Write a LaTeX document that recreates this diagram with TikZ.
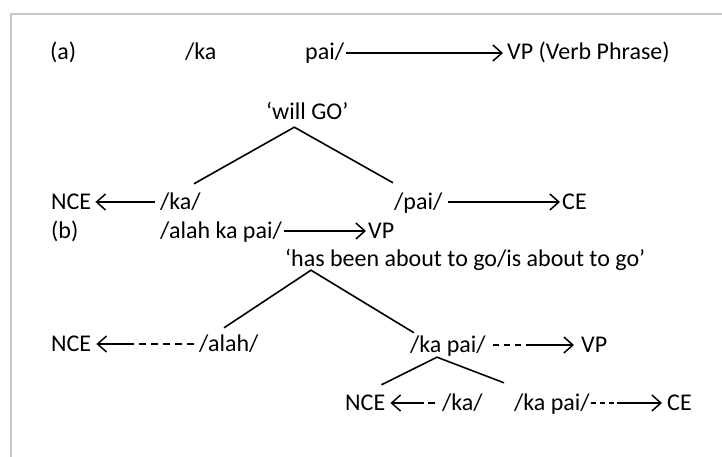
\documentclass[tikz,border=0pt]{standalone}
\usepackage{fontspec}
\setmainfont{Carlito}
\usepackage{tikz}
\usetikzlibrary{arrows.meta, positioning}
\definecolor{framegray}{gray}{0.78}

\begin{document}
\begin{tikzpicture}[x=1pt, y=-1pt,
	txt/.style={anchor=west, inner sep=0pt, text height=14pt, text depth=0pt, font=\fontsize{24}{28}\selectfont},
	arr/.style={-{Straight Barb[length=9pt, width=16pt]}, line width=1.5pt},
	dsh/.style={line width=1.1pt, dash pattern=on 7pt off 5pt},
	leg/.style={line width=1.6pt}]

% picture is measured in pixels of the scan, y grows downwards
\useasboundingbox (0,0) rectangle (722,457);
\draw[framegray, line width=2pt] (11,457) -- (11,14) -- (722,14); % frame

% (a)
\node[txt] (alab)  at (50,53)  {(a)};
\node[txt] (aka)   at (185,53) {/ka};
\node[txt] (apai)  at (305,53) {pai/};
\node[txt] (avp)   at (507,53) {VP (Verb Phrase)};
\draw[arr, shorten <=2pt, shorten >=4pt] (apai) -- (avp);

\node[txt] (willgo) at (266,113) {‘will GO’};

\node[txt] (ncea) at (51,202)  {NCE};
\node[txt] (bka)  at (160,202) {/ka/};
\node[txt] (bpai) at (394,202) {/pai/};
\node[txt] (cea)  at (562,202) {CE};
\draw[arr, shorten <=5pt, shorten >=4pt] (bka) -- (ncea);
\draw[arr, shorten <=5pt, shorten >=2pt] (bpai) -- (cea);

\draw[leg] ([shift={(-7,-11)}]bka.north east) -- ([shift={(-13,7)}]willgo.south) -- ([shift={(-1,-12)}]bpai.north west);

% (b)
\node[txt] (blab)  at (51,231)  {(b)};
\node[txt] (balah) at (160,231) {/alah ka pai/};
\node[txt] (bvp)   at (368,231) {VP};
\draw[arr, shorten <=2pt, shorten >=2pt] (balah) -- (bvp);

\node[txt] (about) at (285,259) {‘has been about to go/is about to go’};

\node[txt] (nceb)  at (51,344)  {NCE};
\node[txt] (alah)  at (199,344) {/alah/};
\node[txt] (kapai) at (410,345) {/ka pai/};
\node[txt] (vpb)   at (581,345) {VP};
\coordinate (m1) at (132,344);
\coordinate (m2) at (527,345);
\draw[dsh, shorten <=5pt] (alah) -- (m1);
\draw[arr, shorten >=5pt] (m1) -- (nceb);
\draw[dsh, shorten <=7pt, dash pattern=on 6pt off 5pt] (kapai) -- (m2);
\draw[arr, shorten >=7pt] (m2) -- (vpb);

\draw[leg] ([shift={(25,-9)}]alah.north west) -- ([shift={(26,4)}]about.south west) -- ([shift={(4,-5)}]kapai.north west);

\node[txt] (ncec) at (345,403) {NCE};
\node[txt] (kac)  at (442,403) {/ka/};
\node[txt] (kapc) at (514,403) {/ka pai/};
\node[txt] (cec)  at (667,403) {CE};
\coordinate (m3) at (424,403);
\coordinate (m4) at (617,403);
\draw[dsh, shorten <=7pt] (kac) -- (m3);
\draw[arr, shorten >=5pt] (m3) -- (ncec);
\draw[dsh, shorten <=1pt, dash pattern=on 5pt off 4pt] (kapc) -- (m4);
\draw[arr, shorten >=5pt] (m4) -- (cec);

\draw[leg] ([shift={(-4,-11)}]ncec.north east) -- ([shift={(27,5)}]kapai.south west) -- ([shift={(-10,-13)}]kapc.north west);

\end{tikzpicture}
\end{document}
